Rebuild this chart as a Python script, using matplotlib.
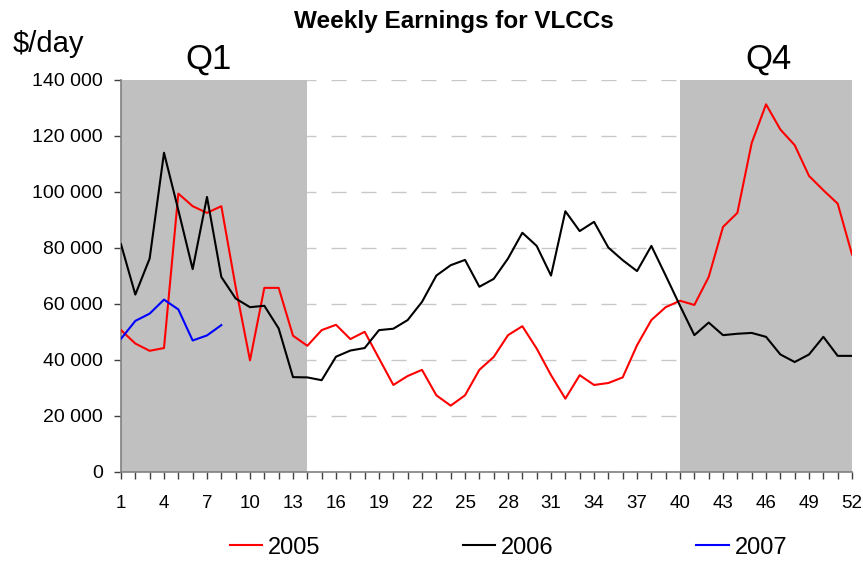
import matplotlib.pyplot as plt
from matplotlib.ticker import FuncFormatter

plt.rcParams["font.family"] = ["Liberation Sans", "DejaVu Sans"]

weeks = list(range(1, 53))

earn_2005 = [
    50600, 45800, 43200, 44200, 99400, 94900, 92500, 94900, 66000, 39800,
    65700, 65700, 48600, 45000, 50600, 52500, 47400, 50000, 40500, 31000,
    34200, 36400, 27300, 23600, 27300, 36400, 41000, 48800, 52000, 44000,
    34500, 26100, 34500, 31000, 31700, 33700, 45200, 54200, 58800, 61100,
    59600, 69600, 87500, 92500, 117500, 131300, 122300, 116700, 105700, 100600,
    95800, 77600,
]

earn_2006 = [
    81300, 63300, 76200, 114000, 93500, 72400, 98200, 69600, 61900, 58800,
    59300, 51200, 33800, 33700, 32700, 41100, 43300, 44200, 50600, 51100,
    54200, 60700, 70100, 73800, 75700, 66100, 68900, 76200, 85400, 80700,
    70100, 93100, 86000, 89300, 80100, 75600, 71700, 80700, 70100, 59300,
    48800, 53300, 48800, 49300, 49600, 48200, 41900, 39200, 41900, 48200,
    41400, 41400,
]

weeks_2007 = [1, 2, 3, 4, 5, 6, 7, 8]
earn_2007 = [47500, 53900, 56500, 61500, 58000, 46900, 48700, 52400]

fig = plt.figure(figsize=(8.63, 5.61), dpi=100)
ax = fig.add_axes([0.1402, 0.1592, 0.9873 - 0.1402, 0.8574 - 0.1592])

# quarter shading
ax.axvspan(1, 14, color="#c0c0c0", lw=0, zorder=1)
ax.axvspan(40, 52, color="#c0c0c0", lw=0, zorder=1)

ax.plot(weeks, earn_2005, color="red", lw=1.5, label="2005", zorder=3)
ax.plot(weeks, earn_2006, color="black", lw=1.5, label="2006", zorder=3)
ax.plot(weeks_2007, earn_2007, color="blue", lw=1.5, label="2007", zorder=3)

ax.set_xlim(1, 52)
ax.set_ylim(0, 140000)
ax.set_yticks(range(0, 140001, 20000))
ax.yaxis.set_major_formatter(FuncFormatter(lambda v, p: f"{int(v):,}".replace(",", " ")))
ax.set_xticks(weeks)
ax.set_xticklabels([str(w) if (w - 1) % 3 == 0 else "" for w in weeks])

ax.grid(axis="y", color="#c8c8c8", lw=1.0, linestyle=(0, (10.8, 10.8)), zorder=0.5)
ax.set_axisbelow(True)

for s in ["top", "right"]:
    ax.spines[s].set_visible(False)
for s in ["left", "bottom"]:
    ax.spines[s].set_color("#808080")
    ax.spines[s].set_linewidth(1.2)

ax.tick_params(axis="both", direction="out", length=5, width=1, color="#404040")
ax.tick_params(axis="x", labelsize=13.5, pad=11.5)
ax.tick_params(axis="y", labelsize=14, pad=8)

ax.text(7.1, 141500, "Q1", fontsize=25, ha="center", va="bottom", clip_on=False)
ax.text(46.2, 141500, "Q4", fontsize=25, ha="center", va="bottom", clip_on=False)

fig.text(0.526, 0.961, "Weekly Earnings for VLCCs", fontsize=17.5, fontweight="bold",
         ha="center", va="center")
fig.text(0.015, 0.907, "$/day", fontsize=21, ha="left", va="baseline")

fig.legend(loc="center", bbox_to_anchor=(0.589, 0.024), ncol=3, frameon=False,
           fontsize=17, handlelength=1.36, handletextpad=0.25, columnspacing=6.05)

plt.savefig("out.png", dpi=100)
